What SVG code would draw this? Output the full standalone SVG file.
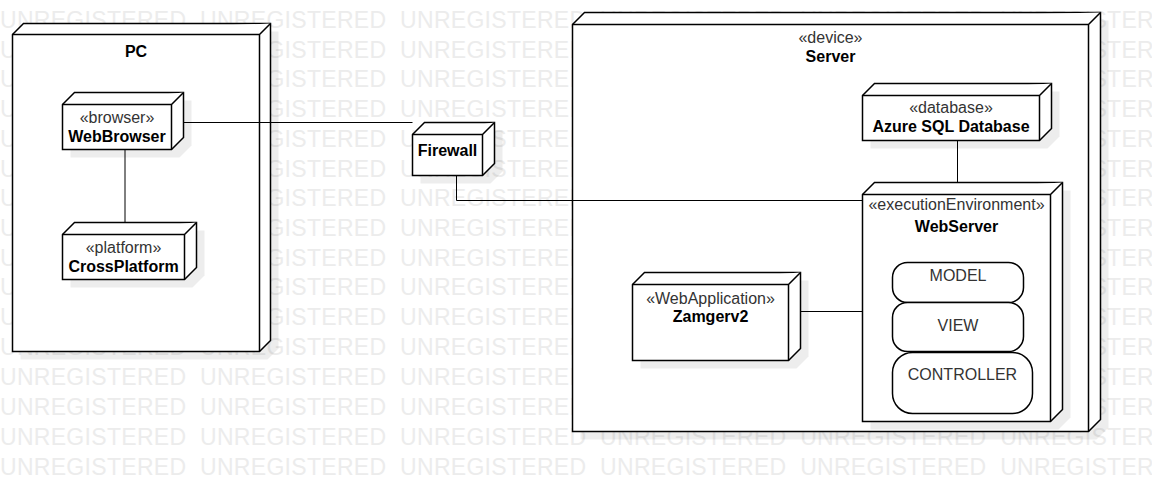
<svg xmlns="http://www.w3.org/2000/svg" width="1152" height="482" viewBox="0 0 1152 482">
<style>
.wm{font-family:"Liberation Sans",Arial,sans-serif;font-size:23px;fill:#ececec;letter-spacing:0.3px;word-spacing:7px}
.n{fill:#fff;stroke:#000;stroke-width:1.5;stroke-linejoin:miter}
.sh{fill:#000;fill-opacity:0.07;stroke:none}
.st{font-family:"Liberation Sans",Arial,sans-serif;font-size:16px;fill:#333;text-anchor:middle}
.nm{font-family:"Liberation Sans",Arial,sans-serif;font-size:16px;font-weight:bold;fill:#000;text-anchor:middle}
.c{fill:none;stroke:#000;stroke-width:1}
</style>
<rect width="1152" height="482" fill="#fff"/>
<g id="watermark">
<text class="wm" x="0" y="28">UNREGISTERED UNREGISTERED UNREGISTERED UNREGISTERED UNREGISTERED UNREGISTERED</text>
<text class="wm" x="0" y="57.7">UNREGISTERED UNREGISTERED UNREGISTERED UNREGISTERED UNREGISTERED UNREGISTERED</text>
<text class="wm" x="0" y="87.4">UNREGISTERED UNREGISTERED UNREGISTERED UNREGISTERED UNREGISTERED UNREGISTERED</text>
<text class="wm" x="0" y="117.1">UNREGISTERED UNREGISTERED UNREGISTERED UNREGISTERED UNREGISTERED UNREGISTERED</text>
<text class="wm" x="0" y="146.8">UNREGISTERED UNREGISTERED UNREGISTERED UNREGISTERED UNREGISTERED UNREGISTERED</text>
<text class="wm" x="0" y="176.5">UNREGISTERED UNREGISTERED UNREGISTERED UNREGISTERED UNREGISTERED UNREGISTERED</text>
<text class="wm" x="0" y="206.2">UNREGISTERED UNREGISTERED UNREGISTERED UNREGISTERED UNREGISTERED UNREGISTERED</text>
<text class="wm" x="0" y="235.9">UNREGISTERED UNREGISTERED UNREGISTERED UNREGISTERED UNREGISTERED UNREGISTERED</text>
<text class="wm" x="0" y="265.6">UNREGISTERED UNREGISTERED UNREGISTERED UNREGISTERED UNREGISTERED UNREGISTERED</text>
<text class="wm" x="0" y="295.3">UNREGISTERED UNREGISTERED UNREGISTERED UNREGISTERED UNREGISTERED UNREGISTERED</text>
<text class="wm" x="0" y="325">UNREGISTERED UNREGISTERED UNREGISTERED UNREGISTERED UNREGISTERED UNREGISTERED</text>
<text class="wm" x="0" y="354.7">UNREGISTERED UNREGISTERED UNREGISTERED UNREGISTERED UNREGISTERED UNREGISTERED</text>
<text class="wm" x="0" y="385.4">UNREGISTERED UNREGISTERED UNREGISTERED UNREGISTERED UNREGISTERED UNREGISTERED</text>
<text class="wm" x="0" y="415.1">UNREGISTERED UNREGISTERED UNREGISTERED UNREGISTERED UNREGISTERED UNREGISTERED</text>
<text class="wm" x="0" y="444.8">UNREGISTERED UNREGISTERED UNREGISTERED UNREGISTERED UNREGISTERED UNREGISTERED</text>
<text class="wm" x="0" y="474.5">UNREGISTERED UNREGISTERED UNREGISTERED UNREGISTERED UNREGISTERED UNREGISTERED</text>
</g>

<g id="PC">
<polygon class="sh" points="20.5,42.5 31.5,31.5 278.5,31.5 278.5,348.5 267.5,359.5 20.5,359.5"/>
<polygon class="n" points="12.5,34.5 23.5,23.5 270.5,23.5 270.5,340.5 259.5,351.5 12.5,351.5"/>
<path class="n" d="M12.5 34.5H259.5L270.5 23.5M259.5 34.5V351.5"/>
<text class="nm" x="136" y="57">PC</text>
</g>

<g id="Server">
<polygon class="sh" points="580.5,32.5 592.5,20.5 1108.5,20.5 1108.5,427.5 1096.5,439.5 580.5,439.5"/>
<polygon class="n" points="572.5,24.5 584.5,12.5 1100.5,12.5 1100.5,419.5 1088.5,431.5 572.5,431.5"/>
<path class="n" d="M572.5 24.5H1088.5L1100.5 12.5M1088.5 24.5V431.5"/>
<text class="st" x="830.5" y="43">«device»</text>
<text class="nm" x="830.5" y="62">Server</text>
</g>

<g id="WebBrowser">
<polygon class="sh" points="70.5,112.5 82.5,100.5 191.5,100.5 191.5,145.5 179.5,157.5 70.5,157.5"/>
<polygon class="n" points="62.5,104.5 74.5,92.5 183.5,92.5 183.5,137.5 171.5,149.5 62.5,149.5"/>
<path class="n" d="M62.5 104.5H171.5L183.5 92.5M171.5 104.5V149.5"/>
<text class="st" x="117" y="123">«browser»</text>
<text class="nm" x="117" y="141.5">WebBrowser</text>
</g>

<g id="CrossPlatform">
<polygon class="sh" points="70.5,242.5 82.5,230.5 204.5,230.5 204.5,275.5 192.5,287.5 70.5,287.5"/>
<polygon class="n" points="62.5,234.5 74.5,222.5 196.5,222.5 196.5,267.5 184.5,279.5 62.5,279.5"/>
<path class="n" d="M62.5 234.5H184.5L196.5 222.5M184.5 234.5V279.5"/>
<text class="st" x="123.5" y="253">«platform»</text>
<text class="nm" x="123.5" y="272">CrossPlatform</text>
</g>

<g id="Firewall">
<polygon class="sh" points="420.5,142.5 432.5,130.5 502.5,130.5 502.5,171.5 490.5,183.5 420.5,183.5"/>
<polygon class="n" points="412.5,134.5 424.5,122.5 494.5,122.5 494.5,163.5 482.5,175.5 412.5,175.5"/>
<path class="n" d="M412.5 134.5H482.5L494.5 122.5M482.5 134.5V175.5"/>
<text class="nm" x="447.5" y="156">Firewall</text>
</g>

<g id="AzureSQLDatabase">
<polygon class="sh" points="870.5,103.5 882.5,91.5 1059.5,91.5 1059.5,136.5 1047.5,148.5 870.5,148.5"/>
<polygon class="n" points="862.5,95.5 874.5,83.5 1051.5,83.5 1051.5,128.5 1039.5,140.5 862.5,140.5"/>
<path class="n" d="M862.5 95.5H1039.5L1051.5 83.5M1039.5 95.5V140.5"/>
<text class="st" x="951" y="113">«database»</text>
<text class="nm" x="951" y="132">Azure SQL Database</text>
</g>

<g id="WebServer">
<polygon class="sh" points="870.5,202.5 882.5,190.5 1070.5,190.5 1070.5,417.5 1058.5,429.5 870.5,429.5"/>
<polygon class="n" points="862.5,194.5 874.5,182.5 1062.5,182.5 1062.5,409.5 1050.5,421.5 862.5,421.5"/>
<path class="n" d="M862.5 194.5H1050.5L1062.5 182.5M1050.5 194.5V421.5"/>
<text class="st" x="956.5" y="210">«executionEnvironment»</text>
<text class="nm" x="956.5" y="231.5">WebServer</text>
</g>

<g id="MODEL">
<rect class="n" x="892.5" y="262.5" width="131" height="40" rx="15" ry="15"/>
<text class="st" x="958" y="281">MODEL</text>
</g>
<g id="VIEW">
<rect class="n" x="892.5" y="302.5" width="131" height="49" rx="15" ry="15"/>
<text class="st" x="958" y="331">VIEW</text>
</g>
<g id="CONTROLLER">
<rect class="n" x="892.5" y="352.5" width="140" height="61" rx="20" ry="20"/>
<text class="st" x="962.5" y="380">CONTROLLER</text>
</g>

<g id="Zamgerv2">
<polygon class="sh" points="640.5,292.5 652.5,280.5 808.5,280.5 808.5,356.5 796.5,368.5 640.5,368.5"/>
<polygon class="n" points="632.5,284.5 644.5,272.5 800.5,272.5 800.5,348.5 788.5,360.5 632.5,360.5"/>
<path class="n" d="M632.5 284.5H788.5L800.5 272.5M788.5 284.5V360.5"/>
<text class="st" x="710.5" y="303.5">«WebApplication»</text>
<text class="nm" x="710.5" y="322">Zamgerv2</text>
</g>

<g id="connectors">
<path class="c" d="M183.5 122.5H412.5"/>
<path class="c" d="M125 149.5V222.5"/>
<path class="c" d="M456.5 175.5V200.5H862.5"/>
<path class="c" d="M957.5 140.5V182.5"/>
<path class="c" d="M800.5 311.5H862.5"/>
</g>
</svg>
